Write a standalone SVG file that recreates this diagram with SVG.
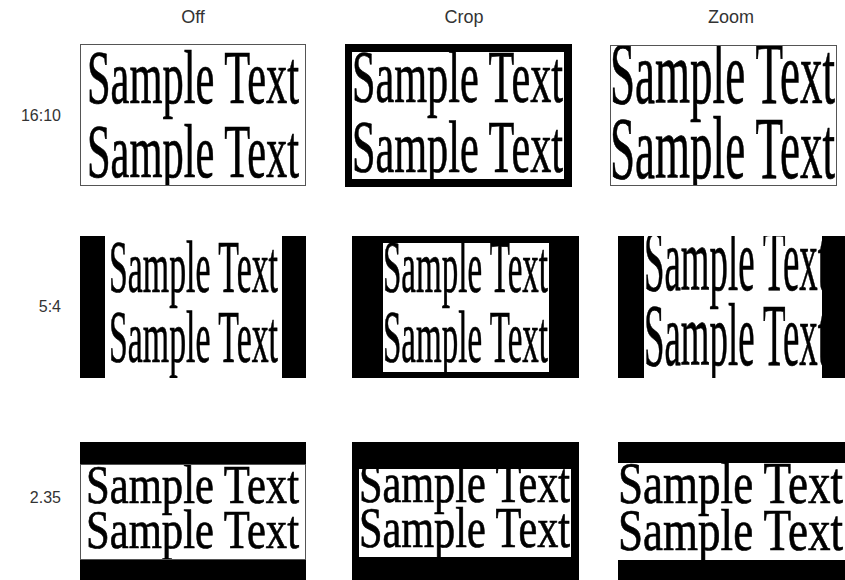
<svg xmlns="http://www.w3.org/2000/svg" width="845" height="580" viewBox="0 0 845 580">
<style>
.lbl{font-family:"Liberation Sans",Arial,sans-serif;fill:#333}
.col{text-anchor:middle;font-size:18px}
.row{text-anchor:end;font-size:16px}
.st{font-family:"Liberation Serif","Times New Roman",serif;fill:#000;stroke:#000;stroke-width:0.7;text-anchor:start}
.blk{fill:#000}
.wht{fill:#fff}
.frm{fill:none;stroke:#555;stroke-width:1}
</style>
<defs>
<clipPath id="c11"><rect x="80" y="44" width="226" height="142"/></clipPath>
<clipPath id="c12"><rect x="352" y="52" width="212" height="127"/></clipPath>
<clipPath id="c13"><rect x="610" y="45" width="227" height="141"/></clipPath>
<clipPath id="c21"><rect x="105" y="236" width="177" height="142"/></clipPath>
<clipPath id="c22"><rect x="383" y="243" width="166" height="129"/></clipPath>
<clipPath id="c23"><rect x="644" y="236" width="178" height="142"/></clipPath>
<clipPath id="c31"><rect x="80" y="464" width="226" height="96"/></clipPath>
<clipPath id="c32"><rect x="359" y="469" width="212" height="88"/></clipPath>
<clipPath id="c33"><rect x="618" y="463" width="227" height="97"/></clipPath>
</defs>

<g id="labels">
<text class="lbl col" x="193" y="23">Off</text>
<text class="lbl col" x="464" y="23">Crop</text>
<text class="lbl col" x="731" y="23">Zoom</text>
<text class="lbl row" x="61" y="121">16:10</text>
<text class="lbl row" x="61" y="312">5:4</text>
<text class="lbl row" x="61" y="503">2.35</text>
</g>

<g id="r1-off">
<rect class="wht" x="80" y="44" width="226" height="142"/>
<g clip-path="url(#c11)">
<text class="st" x="87" y="103" font-size="77" textLength="212" lengthAdjust="spacingAndGlyphs">Sample Text</text>
<text class="st" x="87" y="177" font-size="77" textLength="212" lengthAdjust="spacingAndGlyphs">Sample Text</text>
</g>
<rect class="frm" x="80.5" y="44.5" width="225" height="141"/>
</g>

<g id="r1-crop">
<rect class="blk" x="345" y="44" width="227" height="143"/>
<rect class="wht" x="352" y="52" width="212" height="127"/>
<g clip-path="url(#c12)">
<text class="st" x="352" y="102" font-size="74" textLength="211" lengthAdjust="spacingAndGlyphs">Sample Text</text>
<text class="st" x="352" y="172" font-size="74" textLength="211" lengthAdjust="spacingAndGlyphs">Sample Text</text>
</g>
</g>

<g id="r1-zoom">
<rect class="wht" x="610" y="45" width="227" height="141"/>
<g clip-path="url(#c13)">
<text class="st" x="610" y="103" font-size="88" textLength="225" lengthAdjust="spacingAndGlyphs">Sample Text</text>
<text class="st" x="610" y="178" font-size="88" textLength="225" lengthAdjust="spacingAndGlyphs">Sample Text</text>
</g>
<rect class="frm" x="610.5" y="45.5" width="226" height="140"/>
</g>

<g id="r2-off">
<rect class="blk" x="80" y="236" width="226" height="142"/>
<rect class="wht" x="105" y="236" width="177" height="142"/>
<g clip-path="url(#c21)">
<text class="st" x="109" y="292" font-size="75" textLength="169" lengthAdjust="spacingAndGlyphs">Sample Text</text>
<text class="st" x="109" y="362" font-size="75" textLength="169" lengthAdjust="spacingAndGlyphs">Sample Text</text>
</g>
</g>

<g id="r2-crop">
<rect class="blk" x="352" y="236" width="227" height="142"/>
<rect class="wht" x="383" y="243" width="166" height="129"/>
<g clip-path="url(#c22)">
<text class="st" x="383" y="292" font-size="74" textLength="165" lengthAdjust="spacingAndGlyphs">Sample Text</text>
<text class="st" x="383" y="362" font-size="74" textLength="165" lengthAdjust="spacingAndGlyphs">Sample Text</text>
</g>
</g>

<g id="r2-zoom">
<rect class="blk" x="618" y="236" width="227" height="142"/>
<rect class="wht" x="644" y="236" width="178" height="142"/>
<g clip-path="url(#c23)">
<text class="st" x="644" y="290" font-size="88" textLength="184" lengthAdjust="spacingAndGlyphs">Sample Text</text>
<text class="st" x="644" y="365" font-size="88" textLength="184" lengthAdjust="spacingAndGlyphs">Sample Text</text>
</g>
</g>

<g id="r3-off">
<rect class="blk" x="80" y="442" width="226" height="142"/>
<rect class="wht" x="80" y="464" width="226" height="96"/>
<g clip-path="url(#c31)">
<text class="st" x="86" y="503" font-size="55" textLength="213" lengthAdjust="spacingAndGlyphs">Sample Text</text>
<text class="st" x="86" y="548" font-size="55" textLength="213" lengthAdjust="spacingAndGlyphs">Sample Text</text>
</g>
<rect class="frm" x="80.5" y="464.5" width="225" height="95"/>
</g>

<g id="r3-crop">
<rect class="blk" x="352" y="442" width="227" height="142"/>
<rect class="wht" x="359" y="469" width="212" height="88"/>
<g clip-path="url(#c32)">
<text class="st" x="359" y="502" font-size="56" textLength="211" lengthAdjust="spacingAndGlyphs">Sample Text</text>
<text class="st" x="359" y="547" font-size="56" textLength="211" lengthAdjust="spacingAndGlyphs">Sample Text</text>
</g>
</g>

<g id="r3-zoom">
<rect class="blk" x="618" y="442" width="227" height="142"/>
<rect class="wht" x="618" y="463" width="227" height="97"/>
<g clip-path="url(#c33)">
<text class="st" x="618" y="503" font-size="60" textLength="225" lengthAdjust="spacingAndGlyphs">Sample Text</text>
<text class="st" x="618" y="550" font-size="60" textLength="225" lengthAdjust="spacingAndGlyphs">Sample Text</text>
</g>
</g>
</svg>
